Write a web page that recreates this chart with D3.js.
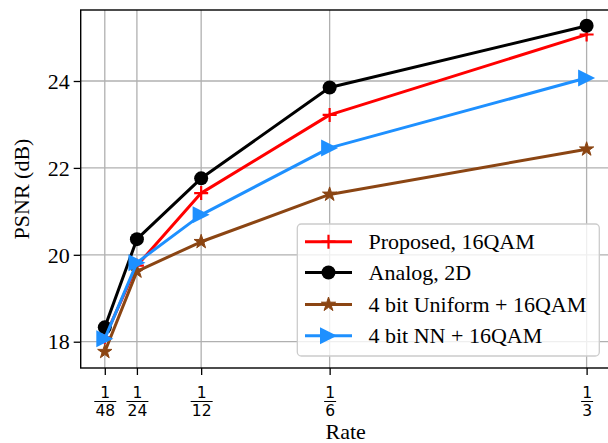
<!DOCTYPE html>
<html><head><meta charset="utf-8">
<script src="https://cdn.jsdelivr.net/npm/d3@7"></script>
<style>html,body{margin:0;padding:0;background:#fff;}svg{display:block;}</style>
</head><body>
<svg id="c" width="608" height="443"></svg>
<script>
const rates = [1/48, 1/24, 1/12, 1/6, 1/3];
const rateDen = ["48", "24", "12", "6", "3"];
const yTicks = [18, 20, 22, 24];
const proposed = [18.10, 19.75, 21.42, 23.22, 25.07];
const analog = [18.33, 20.36, 21.76, 23.85, 25.27];
const uniform = [17.77, 19.62, 20.30, 21.39, 22.43];
const nn = [18.07, 19.82, 20.92, 22.46, 24.07];
const seriesNames = ["Proposed, 16QAM", "Analog, 2D", "4 bit Uniform + 16QAM", "4 bit NN + 16QAM"];
const seriesColors = ["#ff0000", "#000000", "#8b4513", "#1e90ff"];
const seriesMarkers = ["plus", "circle", "star", "triangle"];
const seriesValues = [proposed, analog, uniform, nn];

const svg = d3.select("#c");
const L = 80.7, R = 610.7, T = 10, B = 368;
const x = d3.scaleLinear().domain([0.005208, 0.348958]).range([L, R]);
const y = d3.scaleLinear().domain([17.395, 25.634]).range([B, T]);
const serif = "'Liberation Serif','Times New Roman',serif";

// grid
const g = svg.append("g");
g.selectAll("line.vg").data(rates).enter().append("line")
  .attr("x1", d => x(d)).attr("x2", d => x(d)).attr("y1", T).attr("y2", B)
  .attr("stroke", "#b0b0b0").attr("stroke-width", 1.3);
g.selectAll("line.hg").data(yTicks).enter().append("line")
  .attr("x1", L).attr("x2", R).attr("y1", d => y(d)).attr("y2", d => y(d))
  .attr("stroke", "#b0b0b0").attr("stroke-width", 1.3);

// axes
const yAxis = d3.axisLeft(y).tickValues(yTicks).tickSize(7).tickPadding(4).tickFormat(d3.format("d"));
const ya = svg.append("g").attr("transform", `translate(${L},0)`).call(yAxis);
ya.select(".domain").remove();
ya.selectAll(".tick line").attr("stroke", "#000").attr("stroke-width", 1.3);
ya.selectAll(".tick text").attr("font-family", serif).attr("font-size", 22).attr("fill", "#000").attr("dy", "0.33em");

const xAxis = d3.axisBottom(x).tickValues(rates).tickSize(7).tickFormat("");
const xa = svg.append("g").attr("transform", `translate(0,${B})`).call(xAxis);
xa.select(".domain").remove();
xa.selectAll(".tick line").attr("stroke", "#000").attr("stroke-width", 1.3);
xa.selectAll(".tick").each(function(d, i) {
  const t = d3.select(this);
  t.append("text").attr("x", 0).attr("y", 29.5).attr("text-anchor", "middle")
    .attr("font-family", "'DejaVu Sans',sans-serif").attr("font-size", 15.5).attr("fill", "#000").text("1");
  const w = rateDen[i].length > 1 ? 22 : 12;
  t.append("line").attr("x1", -w/2).attr("x2", w/2).attr("y1", 33.5).attr("y2", 33.5)
    .attr("stroke", "#000").attr("stroke-width", 1);
  t.append("text").attr("x", 0).attr("y", 48).attr("text-anchor", "middle")
    .attr("font-family", "'DejaVu Sans',sans-serif").attr("font-size", 15.5).attr("fill", "#000").text(rateDen[i]);
});

// frame
svg.append("rect").attr("x", L).attr("y", T).attr("width", R - L).attr("height", B - T)
  .attr("fill", "none").attr("stroke", "#000").attr("stroke-width", 1.4);

// labels
svg.append("text").attr("x", (L + R) / 2).attr("y", 439).attr("text-anchor", "middle")
  .attr("font-family", serif).attr("font-size", 22).attr("fill", "#000").text("Rate");
svg.append("text").attr("transform", `translate(29,${(T + B) / 2}) rotate(-90)`).attr("text-anchor", "middle")
  .attr("font-family", serif).attr("font-size", 22).attr("fill", "#000").text("PSNR (dB)");

function starPath(Ro) {
  const ri = Ro * 0.381966, pts = [];
  for (let k = 0; k < 10; k++) {
    const a = -Math.PI / 2 + k * Math.PI / 5, r = k % 2 ? ri : Ro;
    pts.push([r * Math.cos(a), r * Math.sin(a)]);
  }
  return "M" + pts.map(p => p.join(",")).join("L") + "Z";
}
function drawMarker(sel, type, color, cx, cy) {
  if (type === "plus") {
    sel.append("path").attr("d", `M${cx-7},${cy}H${cx+7}M${cx},${cy-7}V${cy+7}`)
      .attr("stroke", color).attr("stroke-width", 2.2).attr("fill", "none");
  } else if (type === "circle") {
    sel.append("circle").attr("cx", cx).attr("cy", cy).attr("r", 7).attr("fill", color);
  } else if (type === "star") {
    sel.append("path").attr("d", starPath(7.5)).attr("transform", `translate(${cx},${cy})`)
      .attr("fill", color).attr("stroke", color).attr("stroke-width", 1);
  } else if (type === "triangle") {
    sel.append("path").attr("d", "M8.5,0L-8.5,8.5L-8.5,-8.5Z").attr("transform", `translate(${cx},${cy})`)
      .attr("fill", color);
  }
}

const line = d3.line().x((d, i) => x(rates[i])).y(d => y(d));
seriesValues.forEach((vals, s) => {
  const sg = svg.append("g");
  sg.append("path").datum(vals).attr("d", line).attr("fill", "none")
    .attr("stroke", seriesColors[s]).attr("stroke-width", 3).attr("stroke-linejoin", "round").attr("stroke-linecap", "square");
  vals.forEach((v, i) => drawMarker(sg, seriesMarkers[s], seriesColors[s], x(rates[i]), y(v)));
});

// legend
const lg = svg.append("g");
lg.append("rect").attr("x", 297.3).attr("y", 224).attr("width", 302).attr("height", 132).attr("rx", 4)
  .attr("fill", "#fff").attr("fill-opacity", 0.8).attr("stroke", "#cccccc").attr("stroke-width", 1.3);
const rowY = [241.7, 272.5, 304.5, 335.8];
seriesNames.forEach((name, s) => {
  const yy = rowY[s];
  lg.append("line").attr("x1", 305).attr("x2", 352).attr("y1", yy).attr("y2", yy)
    .attr("stroke", seriesColors[s]).attr("stroke-width", 3);
  drawMarker(lg, seriesMarkers[s], seriesColors[s], 328.5, yy);
  lg.append("text").attr("x", 368.5).attr("y", yy + 7.5).attr("font-family", serif).attr("font-size", 22)
    .attr("fill", "#000").text(name);
});
</script>
</body></html>
